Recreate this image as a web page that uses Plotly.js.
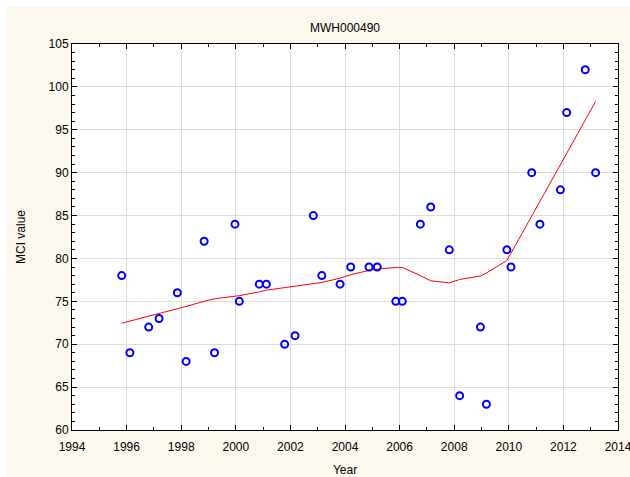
<!DOCTYPE html>
<html>
<head>
<meta charset="utf-8">
<script src="https://cdn.plot.ly/plotly-3.0.1.min.js"></script>
<style>html,body{margin:0;padding:0;background:#fff;}#chart{width:630px;height:477px;}</style>
</head>
<body>
<div id="chart"></div>
<script>
// Observations
const years = [1995.82,1996.12,1996.81,1997.19,1997.86,1998.18,1998.84,1999.22,1999.97,2000.13,
  2000.86,2001.12,2001.79,2002.17,2002.84,2003.15,2003.82,2004.21,2004.88,2005.18,
  2005.86,2006.10,2006.76,2007.14,2007.82,2008.20,2008.96,2009.18,2009.93,2010.08,
  2010.84,2011.14,2011.89,2012.12,2012.80,2013.18];
const mci = [78,69,72,73,76,68,82,69,84,75,
  77,77,70,71,85,78,77,79,79,79,
  75,75,84,86,81,64,72,63,81,79,
  90,84,88,97,102,90];
// Smoothed (LOWESS-style) curve
const smoothYears = years;
const smoothMci = [72.45,72.7,73.2,73.55,74.1,74.4,75.0,75.3,75.6,75.66,
  76.1,76.3,76.6,76.75,77.0,77.2,77.7,78.1,78.6,78.75,
  78.95,78.95,78.0,77.4,77.15,77.55,77.95,78.3,79.75,80.6,
  84.95,86.7,90.9,92.2,96.1,98.3];
const xTicks = [1994,1996,1998,2000,2002,2004,2006,2008,2010,2012,2014];
const yTicks = [60,65,70,75,80,85,90,95,100,105];

const W = 630, H = 477, ML = 72, MR = 12, MT = 44, MB = 47;
const PW = W - ML - MR, PH = H - MT - MB;
const px = v => (v - ML) / PW;
const py = v => (H - MB - v) / PH;

const font = {family: 'Liberation Sans, Arial, sans-serif', size: 12, color: '#000'};

const traces = [
  {x: smoothYears, y: smoothMci, mode: 'lines', type: 'scatter',
   line: {color: '#ff0000', width: 1}, hoverinfo: 'skip', cliponaxis: false},
  {x: years, y: mci, mode: 'markers', type: 'scatter',
   marker: {symbol: 'circle-open', size: 7, color: '#0000ff', line: {width: 2, color: '#0000ff'}}}
];

const axisCommon = {
  showline: true, linecolor: '#000', linewidth: 1, mirror: 'ticks',
  ticks: 'inside', ticklen: 5, tickwidth: 1, tickcolor: '#000',
  showgrid: true, gridcolor: '#dcdcdc', gridwidth: 1, zeroline: false,
  tickfont: font, ticklabeloverflow: 'allow', automargin: false
};

const layout = {
  width: W, height: H,
  margin: {l: ML, r: MR, t: MT, b: MB},
  paper_bgcolor: '#fdf8ee', plot_bgcolor: '#ffffff',
  showlegend: false,
  font: font,
  title: {text: 'MWH000490', font: {family: font.family, size: 12, color: '#000'},
          x: 0.5, xref: 'paper', y: 1 - 28 / H, yanchor: 'middle'},
  xaxis: Object.assign({}, axisCommon, {
    range: [1994, 2014], tickvals: xTicks, ticktext: xTicks.map(String),
    ticklabelstandoff: 6,
    minor: {ticks: 'inside', ticklen: 3, tickcolor: '#000', showgrid: false, dtick: 1, tick0: 1994},
    title: {text: 'Year', font: font, standoff: 14}
  }),
  yaxis: Object.assign({}, axisCommon, {
    range: [60, 105], tickvals: yTicks, ticktext: yTicks.map(String),
    minor: {ticks: 'inside', ticklen: 3, tickcolor: '#000', showgrid: false, dtick: 1, tick0: 60},
    title: {text: 'MCI value', font: font, standoff: 20}
  }),
  shapes: [
    {type: 'rect', xref: 'paper', yref: 'paper', x0: px(0), x1: px(W), y0: py(0), y1: py(7),
     fillcolor: '#ffffff', line: {width: 0}, layer: 'below'},
    {type: 'rect', xref: 'paper', yref: 'paper', x0: px(0), x1: px(7), y0: py(0), y1: py(H),
     fillcolor: '#ffffff', line: {width: 0}, layer: 'below'}
  ]
};

Plotly.newPlot('chart', traces, layout, {displayModeBar: false, staticPlot: true});
</script>
</body>
</html>
